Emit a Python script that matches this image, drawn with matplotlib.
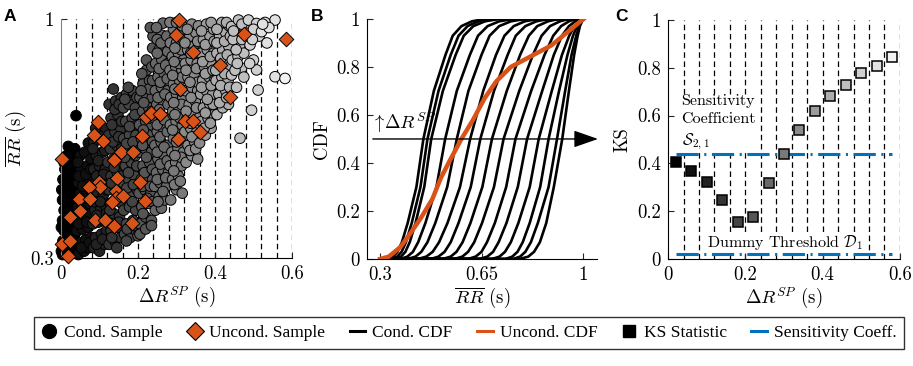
import numpy as np
import matplotlib.pyplot as plt
from matplotlib.lines import Line2D

plt.rcParams['font.family'] = 'serif'
plt.rcParams['font.serif'] = ['cmr10']
plt.rcParams['mathtext.fontset'] = 'cm'
plt.rcParams['axes.unicode_minus'] = False
plt.rcParams['lines.scale_dashes'] = False

ORANGE = '#D95319'
BLUE = '#0072BD'

# ---- panel A: conditional samples (Delta R^SP, RR) ----
cond_x = [
    # 0 - 0.04
    0.004, 0.012, 0.025, 0.035, 0.005, 0.018, 0.030, 0.008, 0.022, 0.036, 0.004, 0.015, 0.028, 0.038,
    0.008, 0.020, 0.033, 0.004, 0.016, 0.030, 0.010, 0.024, 0.037, 0.005, 0.018, 0.032, 0.010, 0.025,
    0.015, 0.030, 0.019, 0.039, 0.036,
    0.012, 0.028, 0.001, 0.012, 0.038, 0.002, 0.030, 0.008, 0.022, 0.038, 0.001,
    # 0.04 - 0.08
    0.045, 0.060, 0.072, 0.050, 0.065, 0.078, 0.042, 0.056, 0.070, 0.048, 0.062, 0.076, 0.044, 0.058,
    0.072, 0.050, 0.065, 0.078, 0.045, 0.060, 0.074, 0.052, 0.068, 0.050, 0.071, 0.062, 0.078,
    0.053, 0.074, 0.046, 0.067, 0.053, 0.070, 0.056, 0.047, 0.064, 0.077, 0.044,
    # 0.08 - 0.12
    0.085, 0.100, 0.113, 0.090, 0.105, 0.118, 0.083, 0.097, 0.110, 0.088, 0.103, 0.117, 0.082, 0.095,
    0.110, 0.090, 0.105, 0.118, 0.085, 0.100, 0.115, 0.092, 0.108, 0.086, 0.104, 0.118, 0.112,
    0.092, 0.108, 0.093, 0.118, 0.088, 0.102, 0.117, 0.093, 0.111, 0.097, 0.083, 0.114, 0.097, 0.090,
    # 0.12 - 0.16
    0.125, 0.140, 0.155, 0.130, 0.147, 0.122, 0.137, 0.152, 0.128, 0.143, 0.158, 0.124, 0.139, 0.154,
    0.130, 0.146, 0.122, 0.137, 0.153, 0.128, 0.145, 0.158, 0.124, 0.140, 0.155, 0.130, 0.148, 0.125,
    0.142, 0.157, 0.136,
    0.132, 0.150, 0.127, 0.152, 0.131, 0.157, 0.138, 0.135, 0.150, 0.132, 0.158, 0.140, 0.151, 0.145,
    # 0.16 - 0.20
    0.165, 0.180, 0.195, 0.170, 0.187, 0.163, 0.178, 0.194, 0.168, 0.184, 0.198, 0.162, 0.176, 0.191,
    0.167, 0.183, 0.197, 0.172, 0.188, 0.163, 0.178, 0.195, 0.168, 0.185, 0.162, 0.177, 0.193, 0.170,
    0.186, 0.175,
    0.172, 0.190, 0.185, 0.171, 0.188, 0.175, 0.193, 0.166, 0.170, 0.187, 0.198, 0.178, 0.192, 0.166,
    0.197, 0.170, 0.200,
    # 0.20 - 0.24
    0.205, 0.220, 0.235, 0.210, 0.227, 0.203, 0.218, 0.233, 0.208, 0.224, 0.238, 0.213, 0.230, 0.204,
    0.219, 0.235, 0.209, 0.226, 0.204, 0.220, 0.236, 0.212, 0.228, 0.205, 0.221, 0.237, 0.213, 0.230,
    0.222, 0.222, 0.236, 0.239, 0.232, 0.238,
    0.213, 0.224, 0.238, 0.212, 0.232, 0.217, 0.237, 0.222, 0.212, 0.238, 0.214, 0.229, 0.237, 0.215,
    0.229, 0.208, 0.238, 0.210, 0.205, 0.220, 0.235,
    # 0.24 - 0.28
    0.245, 0.261, 0.255, 0.270, 0.243, 0.258, 0.274, 0.248, 0.264, 0.279, 0.252, 0.268, 0.244, 0.260,
    0.276, 0.250, 0.266, 0.243, 0.258, 0.274, 0.249, 0.265, 0.245, 0.261, 0.277, 0.252, 0.268, 0.246,
    0.262, 0.278, 0.255, 0.270, 0.261, 0.250, 0.265,
    0.252, 0.265, 0.250, 0.272, 0.258, 0.276, 0.250, 0.268, 0.257, 0.276, 0.250, 0.268, 0.256, 0.278,
    0.252, 0.270, 0.258, 0.276, 0.255, 0.272, 0.250, 0.277, 0.260, 0.275, 0.248,
    # 0.28 - 0.32
    0.285, 0.300, 0.315, 0.290, 0.305, 0.283, 0.298, 0.313, 0.288, 0.304, 0.318, 0.292, 0.308, 0.284,
    0.299, 0.315, 0.290, 0.306, 0.285, 0.300, 0.316, 0.292, 0.308, 0.283, 0.298, 0.314, 0.289, 0.305,
    0.318, 0.284, 0.300, 0.292, 0.310,
    0.295, 0.310, 0.293, 0.312, 0.296, 0.300, 0.316, 0.290, 0.309, 0.296, 0.313, 0.293, 0.310, 0.296,
    0.315, 0.290, 0.306, 0.294, 0.312, 0.296, 0.318, 0.283, 0.300, 0.315,
    # 0.32 - 0.36
    0.325, 0.340, 0.355, 0.330, 0.347, 0.322, 0.337, 0.353, 0.328, 0.344, 0.358, 0.333, 0.349, 0.324,
    0.340, 0.355, 0.330, 0.346, 0.323, 0.338, 0.354, 0.329, 0.345, 0.358, 0.335, 0.350, 0.340,
    0.335, 0.350, 0.340, 0.357, 0.336, 0.325, 0.352, 0.338, 0.355, 0.335, 0.325, 0.352, 0.337, 0.322,
    0.355, 0.328, 0.357,
    # 0.36 - 0.40
    0.360, 0.375, 0.390, 0.365, 0.382, 0.397, 0.370, 0.387, 0.363, 0.378, 0.394, 0.368, 0.385, 0.399,
    0.373, 0.390, 0.364, 0.380, 0.396, 0.370, 0.387, 0.378, 0.396,
    0.372, 0.388, 0.375, 0.395, 0.380, 0.365, 0.390, 0.375, 0.395, 0.368, 0.388, 0.375, 0.398, 0.365,
    0.390,
    # 0.40 - 0.44
    0.405, 0.420, 0.435, 0.410, 0.428, 0.403, 0.418, 0.434, 0.410, 0.426, 0.439, 0.405, 0.420, 0.436,
    0.412, 0.428, 0.418, 0.437,
    0.412, 0.430, 0.415, 0.438, 0.425, 0.402, 0.415, 0.432, 0.405, 0.425, 0.440, 0.405, 0.430,
    # 0.44 - 0.48
    0.443, 0.456, 0.469, 0.445, 0.460, 0.465, 0.475, 0.443, 0.456, 0.461, 0.447, 0.478, 0.465, 0.452,
    0.455, 0.470, 0.448, 0.470, 0.458, 0.475,
    # 0.48 - 0.60
    0.482, 0.487, 0.491, 0.508, 0.508, 0.512, 0.495, 0.500, 0.515, 0.490, 0.500, 0.497,
    0.521, 0.556, 0.556, 0.530, 0.540, 0.535, 0.582, 0.524,
]
cond_y = [
    0.31, 0.33, 0.32, 0.33, 0.35, 0.36, 0.35, 0.38, 0.39, 0.37, 0.41, 0.42, 0.41, 0.40,
    0.44, 0.45, 0.44, 0.47, 0.48, 0.47, 0.50, 0.51, 0.50, 0.53, 0.54, 0.53, 0.56, 0.57,
    0.60, 0.59, 0.627, 0.717, 0.62,
    0.345, 0.375, 0.39, 0.46, 0.46, 0.50, 0.52, 0.58, 0.60, 0.56, 0.32,
    0.31, 0.32, 0.33, 0.345, 0.355, 0.36, 0.38, 0.385, 0.39, 0.42, 0.415, 0.43, 0.45, 0.455,
    0.46, 0.49, 0.50, 0.485, 0.52, 0.53, 0.525, 0.56, 0.57, 0.60, 0.637, 0.61, 0.59,
    0.33, 0.345, 0.40, 0.405, 0.44, 0.475, 0.51, 0.54, 0.545, 0.56, 0.58,
    0.33, 0.32, 0.34, 0.36, 0.37, 0.38, 0.40, 0.405, 0.41, 0.44, 0.445, 0.45, 0.48, 0.49,
    0.485, 0.52, 0.53, 0.52, 0.56, 0.57, 0.56, 0.60, 0.61, 0.64, 0.65, 0.64, 0.68,
    0.34, 0.355, 0.425, 0.43, 0.465, 0.465, 0.50, 0.54, 0.545, 0.585, 0.62, 0.615, 0.66, 0.68,
    0.34, 0.35, 0.36, 0.38, 0.39, 0.42, 0.43, 0.42, 0.46, 0.47, 0.46, 0.50, 0.51, 0.50,
    0.54, 0.55, 0.58, 0.59, 0.58, 0.62, 0.63, 0.62, 0.66, 0.67, 0.68, 0.71, 0.72, 0.75,
    0.76, 0.77, 0.795,
    0.36, 0.405, 0.44, 0.48, 0.52, 0.54, 0.565, 0.64, 0.655, 0.69, 0.70, 0.735, 0.75, 0.33,
    0.37, 0.36, 0.38, 0.40, 0.41, 0.44, 0.45, 0.44, 0.48, 0.49, 0.50, 0.52, 0.53, 0.54,
    0.57, 0.58, 0.57, 0.61, 0.62, 0.65, 0.66, 0.66, 0.70, 0.71, 0.74, 0.75, 0.74, 0.78,
    0.79, 0.80,
    0.385, 0.395, 0.465, 0.505, 0.515, 0.55, 0.60, 0.595, 0.635, 0.64, 0.69, 0.685, 0.72, 0.765,
    0.77, 0.35, 0.365,
    0.40, 0.42, 0.41, 0.45, 0.46, 0.49, 0.50, 0.49, 0.53, 0.54, 0.53, 0.57, 0.58, 0.61,
    0.62, 0.61, 0.65, 0.66, 0.69, 0.70, 0.69, 0.73, 0.74, 0.77, 0.78, 0.77, 0.81, 0.82,
    0.85, 0.88, 0.86, 0.95, 0.975, 0.915,
    0.43, 0.475, 0.465, 0.51, 0.51, 0.55, 0.56, 0.595, 0.63, 0.64, 0.675, 0.71, 0.73, 0.755,
    0.795, 0.79, 0.82, 0.84, 0.37, 0.385, 0.395,
    0.44, 0.446, 0.48, 0.47, 0.51, 0.52, 0.51, 0.55, 0.56, 0.55, 0.59, 0.60, 0.63, 0.64,
    0.63, 0.67, 0.68, 0.71, 0.72, 0.71, 0.75, 0.76, 0.79, 0.80, 0.79, 0.83, 0.84, 0.87,
    0.88, 0.87, 0.91, 0.92, 0.953, 0.94, 0.988,
    0.465, 0.495, 0.53, 0.535, 0.575, 0.585, 0.61, 0.625, 0.655, 0.67, 0.69, 0.705, 0.735, 0.75,
    0.77, 0.78, 0.815, 0.825, 0.855, 0.865, 0.90, 0.905, 0.93, 0.95, 0.975,
    0.47, 0.50, 0.49, 0.53, 0.54, 0.57, 0.58, 0.57, 0.61, 0.62, 0.61, 0.65, 0.66, 0.69,
    0.70, 0.69, 0.73, 0.74, 0.77, 0.78, 0.77, 0.81, 0.82, 0.85, 0.86, 0.85, 0.89, 0.90,
    0.88, 0.93, 0.93, 0.97, 0.96,
    0.515, 0.525, 0.555, 0.595, 0.60, 0.64, 0.65, 0.675, 0.71, 0.72, 0.75, 0.755, 0.79, 0.795,
    0.83, 0.835, 0.87, 0.875, 0.91, 0.915, 0.94, 0.99, 0.99, 0.98,
    0.58, 0.60, 0.59, 0.63, 0.64, 0.67, 0.68, 0.67, 0.71, 0.72, 0.71, 0.75, 0.76, 0.79,
    0.80, 0.79, 0.83, 0.84, 0.87, 0.88, 0.87, 0.91, 0.92, 0.90, 0.95, 0.96, 0.985,
    0.615, 0.62, 0.655, 0.695, 0.695, 0.73, 0.74, 0.77, 0.815, 0.815, 0.85, 0.855, 0.90, 0.93,
    0.935, 0.97, 0.98,
    0.637, 0.66, 0.68, 0.70, 0.71, 0.72, 0.74, 0.75, 0.78, 0.79, 0.78, 0.82, 0.83, 0.82,
    0.86, 0.87, 0.90, 0.91, 0.90, 0.94, 0.95, 0.985, 0.97,
    0.68, 0.695, 0.725, 0.75, 0.765, 0.80, 0.805, 0.84, 0.85, 0.875, 0.89, 0.925, 0.935, 0.965,
    0.99,
    0.72, 0.74, 0.75, 0.78, 0.79, 0.82, 0.83, 0.82, 0.86, 0.87, 0.86, 0.90, 0.91, 0.92,
    0.95, 0.96, 0.99, 0.98,
    0.755, 0.77, 0.805, 0.80, 0.84, 0.85, 0.885, 0.895, 0.93, 0.935, 0.95, 0.97, 0.99,
    0.836, 0.80, 0.856, 0.88, 0.89, 0.924, 0.90, 0.978, 0.953, 0.997, 0.94, 0.97, 0.651, 0.85,
    0.91, 0.94, 0.965, 0.985, 0.87, 0.83,
    0.958, 0.997, 0.924, 0.987, 0.851, 0.792, 0.733, 0.88, 0.95, 0.87, 0.97, 0.94,
    0.963, 0.997, 0.831, 0.99, 0.975, 0.93, 0.826, 0.985,
]

# unconditional samples
uncond_x = [0.306, 0.300, 0.475, 0.585, 0.343, 0.412, 0.309, 0.438, 0.097, 0.220, 0.233,
            0.258, 0.322, 0.343, 0.360, 0.303, 0.211, 0.086, 0.108, 0.156, 0.188, 0.003,
            0.138, 0.146, 0.099, 0.101, 0.073, 0.205, 0.046, 0.075, 0.144, 0.144, 0.161,
            0.132, 0.218, 0.050, 0.023, 0.089, 0.114, 0.138, 0.185, 0.002, 0.023, 0.017]
uncond_y = [0.998, 0.954, 0.957, 0.942, 0.902, 0.864, 0.795, 0.773, 0.699, 0.713, 0.725,
            0.723, 0.702, 0.702, 0.668, 0.649, 0.656, 0.661, 0.642, 0.612, 0.610, 0.590,
            0.586, 0.534, 0.522, 0.507, 0.507, 0.522, 0.474, 0.473, 0.495, 0.475, 0.481,
            0.464, 0.466, 0.437, 0.420, 0.410, 0.412, 0.395, 0.403, 0.342, 0.349, 0.307]

bin_edges = [0.04, 0.08, 0.12, 0.16, 0.20, 0.24, 0.28, 0.32, 0.36, 0.40, 0.44, 0.48, 0.52, 0.56, 0.60]

# ---- panel B: CDFs (RR value reached at each CDF level) ----
cdf_levels = [0, 0.01, 0.03, 0.07, 0.15, 0.3, 0.5, 0.7, 0.85, 0.93, 0.97, 0.99, 1.0]
cond_cdf_x = [
    [0.325, 0.345, 0.360, 0.375, 0.395, 0.425, 0.449, 0.485, 0.525, 0.550, 0.580, 0.616, 0.66],
    [0.339, 0.359, 0.374, 0.389, 0.409, 0.439, 0.463, 0.501, 0.543, 0.570, 0.601, 0.638, 0.685],
    [0.352, 0.372, 0.387, 0.402, 0.422, 0.452, 0.476, 0.516, 0.560, 0.588, 0.621, 0.661, 0.71],
    [0.369, 0.394, 0.413, 0.431, 0.456, 0.494, 0.524, 0.564, 0.609, 0.637, 0.670, 0.710, 0.76],
    [0.394, 0.422, 0.442, 0.463, 0.490, 0.531, 0.564, 0.604, 0.649, 0.677, 0.710, 0.750, 0.80],
    [0.430, 0.459, 0.481, 0.503, 0.532, 0.575, 0.610, 0.655, 0.699, 0.728, 0.760, 0.798, 0.845],
    [0.474, 0.501, 0.522, 0.543, 0.570, 0.612, 0.645, 0.692, 0.739, 0.767, 0.800, 0.838, 0.88],
    [0.515, 0.543, 0.563, 0.584, 0.611, 0.652, 0.685, 0.736, 0.782, 0.812, 0.841, 0.878, 0.915],
    [0.555, 0.583, 0.603, 0.624, 0.651, 0.692, 0.725, 0.779, 0.826, 0.856, 0.885, 0.919, 0.95],
    [0.602, 0.629, 0.649, 0.668, 0.695, 0.734, 0.766, 0.820, 0.866, 0.896, 0.923, 0.950, 0.975],
    [0.642, 0.669, 0.689, 0.708, 0.735, 0.774, 0.806, 0.858, 0.898, 0.926, 0.950, 0.972, 0.99],
    [0.685, 0.711, 0.730, 0.750, 0.776, 0.815, 0.846, 0.891, 0.926, 0.951, 0.969, 0.988, 1.0],
    [0.731, 0.755, 0.773, 0.791, 0.815, 0.851, 0.880, 0.916, 0.945, 0.964, 0.978, 0.992, 1.0],
    [0.758, 0.782, 0.800, 0.819, 0.843, 0.880, 0.909, 0.937, 0.959, 0.975, 0.985, 0.994, 1.0],
    [0.780, 0.810, 0.830, 0.850, 0.872, 0.898, 0.927, 0.950, 0.968, 0.980, 0.988, 0.995, 1.0],
]
uncond_cdf_x = [0.30, 0.33, 0.37, 0.40, 0.44, 0.48, 0.51, 0.54, 0.58, 0.62, 0.66, 0.70, 0.75, 0.82, 0.89, 0.95, 1.0]
uncond_cdf_y = [0.0, 0.01, 0.05, 0.10, 0.17, 0.25, 0.34, 0.41, 0.50, 0.58, 0.67, 0.74, 0.80, 0.845, 0.89, 0.95, 1.0]

# ---- panel C: KS statistic per bin ----
bin_centers = [0.02, 0.06, 0.10, 0.14, 0.18, 0.22, 0.26, 0.30, 0.34, 0.38, 0.42, 0.46, 0.50, 0.54, 0.58]
ks_values = [0.407, 0.370, 0.324, 0.248, 0.156, 0.177, 0.318, 0.437, 0.541, 0.618, 0.682, 0.728, 0.777, 0.806, 0.844]
sensitivity = 0.44
dummy_threshold = 0.02

greys = plt.cm.gray(np.linspace(0, 0.95, len(bin_centers)))

fig = plt.figure(figsize=(9.13, 3.66), dpi=100)
axA = fig.add_axes([0.0668, 0.295, 0.253, 0.653])
axB = fig.add_axes([0.402, 0.2923, 0.252, 0.656])
axC = fig.add_axes([0.7317, 0.2923, 0.254, 0.6535])

for ax in (axA, axB, axC):
    for s in ('top', 'right'):
        ax.spines[s].set_visible(False)
    ax.tick_params(direction='in', length=4, labelsize=13.5, color='0.15', pad=5)
    ax.set_facecolor('none')

vdash = (0, (4, 2.6))

# panel A
axA.vlines(bin_edges, 0.3, 1.0, colors='k', linestyles=vdash, lw=0.9, zorder=1)
cx = np.array(cond_x)
cy = np.array(cond_y)
idx = np.clip((cx // 0.04).astype(int), 0, len(bin_centers) - 1)
axA.scatter(cx, cy, s=58, c=greys[idx], edgecolors='k', linewidths=0.7, zorder=2, clip_on=False)
axA.scatter(uncond_x, uncond_y, s=55, marker='D', c=ORANGE, edgecolors='k', linewidths=0.7,
            zorder=3, clip_on=False)
axA.set_xlim(0, 0.6)
axA.set_ylim(0.3, 1.0)
axA.set_xticks([0, 0.2, 0.4, 0.6])
axA.set_xticklabels(['0', '0.2', '0.4', '0.6'])
axA.set_yticks([0.3, 1.0])
axA.set_yticklabels(['0.3', '1'])
axA.spines['left'].set_color('0.5')
axA.set_xlabel(r'$\Delta R^{SP}$ (s)', fontsize=13.5, labelpad=1)
axA.set_ylabel(r'$\overline{RR}$ (s)', fontsize=13.5, labelpad=2)

# panel B
for row in cond_cdf_x:
    axB.plot([0.3] + row + [1.0], [0] + cdf_levels + [1.0], color='k', lw=1.9,
             solid_joinstyle='round', zorder=2)
axB.plot(uncond_cdf_x, uncond_cdf_y, color=ORANGE, lw=3.2, solid_joinstyle='round', zorder=3)
axB.annotate('', xy=(1.05, 0.5), xytext=(0.275, 0.5), annotation_clip=False,
             arrowprops=dict(arrowstyle='-|>,head_length=1.0,head_width=0.35', color='k',
                             lw=1.0, mutation_scale=15, shrinkA=0, shrinkB=0), zorder=4)
axB.text(0.268, 0.515, r'$\uparrow\!\Delta R^{SP}$', fontsize=13.5, ha='left', va='bottom', zorder=5)
axB.set_xlim(0.255, 1.047)
axB.set_ylim(0, 1)
axB.set_xticks([0.3, 0.65, 1.0])
axB.set_xticklabels(['0.3', '0.65', '1'])
axB.set_yticks([0, 0.2, 0.4, 0.6, 0.8, 1.0])
axB.set_yticklabels(['0', '0.2', '0.4', '0.6', '0.8', '1'])
axB.set_xlabel(r'$\overline{RR}$ (s)', fontsize=13.5, labelpad=1)
axB.set_ylabel('CDF', fontsize=13.5, labelpad=4)

# panel C
axC.vlines(bin_edges, 0, 1.0, colors='k', linestyles=vdash, lw=0.9, zorder=1)
bd = (0, (16, 4, 1.5, 4))
axC.plot([bin_centers[0], bin_centers[-1]], [sensitivity, sensitivity], color=BLUE, lw=2.2,
         linestyle=bd, zorder=2)
axC.plot([bin_centers[0], bin_centers[-1]], [dummy_threshold, dummy_threshold], color=BLUE, lw=2.2,
         linestyle=bd, zorder=2)
for xc, kv, g in zip(bin_centers, ks_values, greys):
    axC.plot(xc, kv, 's', ms=7, mfc=g, mec='k', mew=1.1, zorder=4)
axC.text(0.035, 0.69, 'Sensitivity\nCoefficient\n' + r'$\mathcal{S}_{2,1}$', fontsize=11.5,
         ha='left', va='top', linespacing=1.4, zorder=3,
         bbox=dict(facecolor='white', edgecolor='none', pad=0.5))
axC.text(0.303, 0.07, r'Dummy Threshold $\mathcal{D}_1$', fontsize=11.5, ha='center', va='center',
         zorder=3, bbox=dict(facecolor='white', edgecolor='none', pad=0.5))
axC.set_xlim(0, 0.6)
axC.set_ylim(0, 1)
axC.set_xticks([0, 0.2, 0.4, 0.6])
axC.set_xticklabels(['0', '0.2', '0.4', '0.6'])
axC.set_yticks([0, 0.2, 0.4, 0.6, 0.8, 1.0])
axC.set_yticklabels(['0', '0.2', '0.4', '0.6', '0.8', '1'])
axC.set_xlabel(r'$\Delta R^{SP}$ (s)', fontsize=13.5, labelpad=1)
axC.set_ylabel('KS', fontsize=13.5, labelpad=4)

# panel letters
for lab, xp in (('A', 0.004), ('B', 0.341), ('C', 0.674)):
    fig.text(xp, 0.975, lab, fontsize=12.5, fontweight='bold', family='Liberation Sans',
             ha='left', va='top')

handles = [
    Line2D([], [], ls='none', marker='o', ms=10, mfc='k', mec='k'),
    Line2D([], [], ls='none', marker='D', ms=9, mfc=ORANGE, mec='k', mew=0.8),
    Line2D([], [], color='k', lw=2.2),
    Line2D([], [], color=ORANGE, lw=2.2),
    Line2D([], [], ls='none', marker='s', ms=8, mfc='k', mec='k'),
    Line2D([], [], color=BLUE, lw=2.2),
]
labels = ['Cond. Sample', 'Uncond. Sample', 'Cond. CDF', 'Uncond. CDF', 'KS Statistic', 'Sensitivity Coeff.']
leg = fig.legend(handles, labels, loc='center', bbox_to_anchor=(0.5137, 0.09), ncol=6,
                 frameon=True, fancybox=False, edgecolor='k', handlelength=0.9,
                 handletextpad=0.4, columnspacing=1.4, borderpad=0.45,
                 prop={'family': 'Liberation Serif', 'size': 12.5})
leg.get_frame().set_linewidth(1.0)

fig.savefig('out.png', dpi=100)
